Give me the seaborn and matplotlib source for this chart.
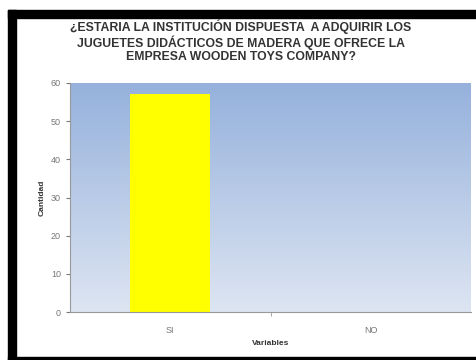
import numpy as np
import pandas as pd
import matplotlib
matplotlib.use("Agg")
import matplotlib.pyplot as plt
import seaborn as sns
from matplotlib.patches import Rectangle

categorias = ["SI", "NO"]
cantidad = [57, 0]
titulo = ("¿ESTARIA LA INSTITUCIÓN DISPUESTA  A ADQUIRIR LOS\n"
          "JUGUETES DIDÁCTICOS DE MADERA QUE OFRECE LA\n"
          "EMPRESA WOODEN TOYS COMPANY?")

sns.set_style("white")
plt.rcParams['font.family'] = ['Liberation Sans', 'DejaVu Sans']

df = pd.DataFrame({"Variables": categorias, "Cantidad": cantidad})

fig = plt.figure(figsize=(4.77, 3.6), dpi=100)
ax = fig.add_axes([70/477, 1 - 312/360, 401/477, 229/360])

# fondo degradado del area de trazado
grad = np.linspace(0, 1, 256).reshape(-1, 1)
cmap = matplotlib.colors.LinearSegmentedColormap.from_list("fondo", ["#dde5f2", "#95b1dc"])
ax.imshow(grad, extent=[-0.5, 1.5, 0, 60], origin="lower", aspect="auto",
          cmap=cmap, zorder=0)

sns.barplot(data=df, x="Variables", y="Cantidad", color="#ffff00",
            width=0.4, saturation=1, linewidth=0, ax=ax, zorder=2)

ax.set_xlim(-0.5, 1.5)
ax.set_ylim(0, 60)
ax.set_yticks(range(0, 61, 10))
ax.set_xticks([0.5], minor=True)
ax.tick_params(axis="both", labelsize=6.5, colors="#777777", length=3,
               left=True, bottom=True)
ax.tick_params(axis="x", which="major", length=0, pad=10)
ax.tick_params(axis="x", which="minor", length=3, color="#999999", bottom=True)
ax.set_xlabel("Variables", fontsize=6, fontweight="bold", color="#333333", labelpad=4)
ax.set_ylabel("Cantidad", fontsize=6, fontweight="bold", color="#333333", labelpad=4)
for s in ["top", "right"]:
    ax.spines[s].set_visible(False)
for s in ["left", "bottom"]:
    ax.spines[s].set_color("#999999")
    ax.spines[s].set_linewidth(0.8)

fig.text(0.505, 1 - 41/360, titulo, ha="center", va="center", fontsize=8.8,
         fontweight="bold", color="#333333", linespacing=1.1)

# marco negro
fig.patches.append(Rectangle((8/477, 1 - 18/360), 1, 8/360, transform=fig.transFigure,
                             color="black", zorder=5))
fig.patches.append(Rectangle((8/477, 0), 8/477, 1 - 10/360, transform=fig.transFigure,
                             color="black", zorder=5))
fig.patches.append(Rectangle((8/477, 0), 1, 3/360, transform=fig.transFigure,
                             color="black", zorder=5))

fig.savefig("out.png", dpi=100)
